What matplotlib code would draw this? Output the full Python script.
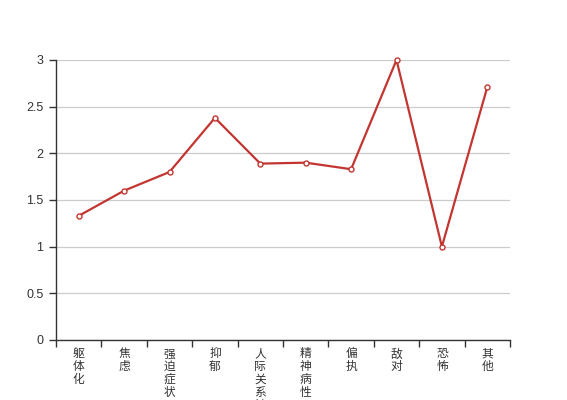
import numpy as np
import matplotlib
matplotlib.use('Agg')
import matplotlib.pyplot as plt

plt.rcParams['font.family'] = ['Liberation Sans', 'Noto Sans CJK SC', 'DejaVu Sans']

factors = ['躯体化', '焦虑', '强迫症状', '抑郁', '人际关系敏感',
           '精神病性', '偏执', '敌对', '恐怖', '其他']
scores = [1.33, 1.60, 1.80, 2.38, 1.89, 1.90, 1.83, 3.00, 1.00, 2.71]
yticks = [0, 0.5, 1, 1.5, 2, 2.5, 3]
ytick_labels = ['0', '0.5', '1', '1.5', '2', '2.5', '3']

fig = plt.figure(figsize=(5.67, 4.0), dpi=100)
ax = fig.add_axes([56 / 567, 60 / 400, 454 / 567, 280 / 400])

x = np.arange(len(factors))
ax.plot(x, scores, color='#c23531', lw=1.6, marker='o', ms=3.6,
        mfc='white', mec='#c23531', mew=1.0, zorder=3, clip_on=False)

ax.set_xlim(-0.5, len(factors) - 0.5)
ax.set_ylim(0, 3)
ax.set_yticks(yticks)
ax.set_yticklabels(ytick_labels, fontsize=9, color='#333333')
ax.yaxis.grid(True, color='#cccccc', lw=0.9)
ax.set_axisbelow(True)

# category boundaries as ticks, labels drawn vertically below
ax.set_xticks(np.arange(len(factors) + 1) - 0.5)
ax.set_xticklabels([])
for i, name in enumerate(factors):
    ax.text(i, -0.08, '\n'.join(name), transform=ax.transData,
            ha='center', va='top', fontsize=8.5, color='#333333',
            family=['Noto Sans CJK SC', 'DejaVu Sans'],
            linespacing=0.98, clip_on=False)

ax.tick_params(axis='both', direction='out', length=5, width=1, color='#333333')
ax.tick_params(axis='y', pad=4)
for side in ['top', 'right']:
    ax.spines[side].set_visible(False)
for side in ['left', 'bottom']:
    ax.spines[side].set_color('#333333')
    ax.spines[side].set_linewidth(1)

fig.savefig('out.png', dpi=100)
